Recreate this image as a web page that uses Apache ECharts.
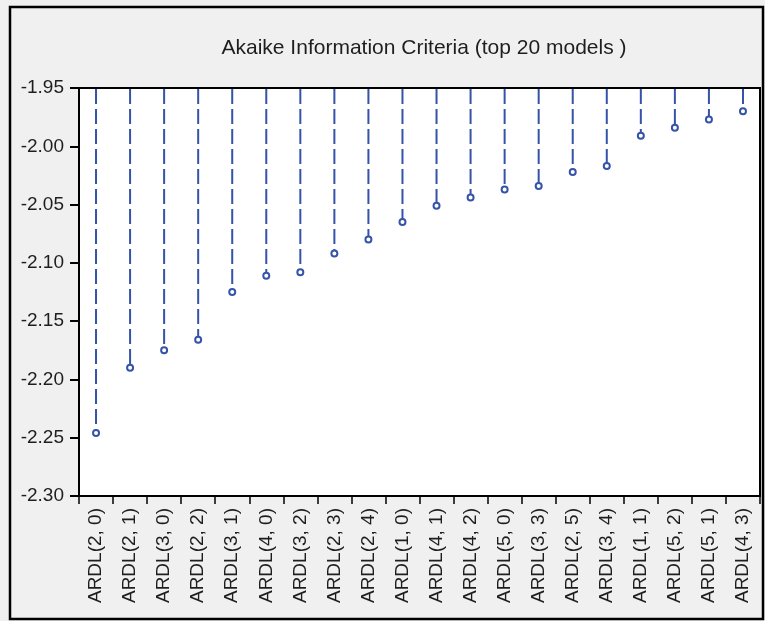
<!DOCTYPE html>
<html>
<head>
<meta charset="utf-8">
<script src="https://cdn.jsdelivr.net/npm/echarts@6/dist/echarts.min.js"></script>
<style>
  html, body { margin: 0; padding: 0; background: #eff0ef; }
  #chart { width: 765px; height: 621px; }
</style>
</head>
<body>
<div id="chart"></div>
<script>
// ARDL model orders ranked by Akaike information criterion
const models = [
  'ARDL(2, 0)', 'ARDL(2, 1)', 'ARDL(3, 0)', 'ARDL(2, 2)', 'ARDL(3, 1)',
  'ARDL(4, 0)', 'ARDL(3, 2)', 'ARDL(2, 3)', 'ARDL(2, 4)', 'ARDL(1, 0)',
  'ARDL(4, 1)', 'ARDL(4, 2)', 'ARDL(5, 0)', 'ARDL(3, 3)', 'ARDL(2, 5)',
  'ARDL(3, 4)', 'ARDL(1, 1)', 'ARDL(5, 2)', 'ARDL(5, 1)', 'ARDL(4, 3)'
];
const aicValues = [
  -2.246, -2.190, -2.175, -2.166, -2.125,
  -2.111, -2.108, -2.092, -2.080, -2.065,
  -2.051, -2.044, -2.037, -2.034, -2.022,
  -2.017, -1.991, -1.984, -1.977, -1.970
];
const yMin = -2.30;
const yMax = -1.95;
const yStep = 0.05;
const titleText = 'Akaike Information Criteria (top 20 models )';

const stemColor = '#3553a8';
const fontFamily = '"Liberation Sans", Arial, sans-serif';
const textColor = '#1e1e1e';

const chart = echarts.init(document.getElementById('chart'), null, { renderer: 'canvas' });

chart.setOption({
  backgroundColor: '#eff0ef',
  animation: false,
  title: {
    text: titleText,
    left: 419,
    top: 33,
    textAlign: 'center',
    textStyle: { fontFamily, fontSize: 21, fontWeight: 'normal', color: textColor }
  },
  graphic: [{
    type: 'rect',
    silent: true,
    z: 100,
    shape: { x: 10, y: 7, width: 753, height: 612 },
    style: { fill: 'none', stroke: '#000', lineWidth: 2.5 }
  }],
  grid: {
    left: 79, right: 5, top: 88, bottom: 125,
    show: true,
    backgroundColor: '#ffffff',
    borderColor: '#000',
    borderWidth: 2
  },
  xAxis: {
    type: 'category',
    data: models,
    boundaryGap: true,
    axisLine: { show: true, lineStyle: { color: '#000', width: 2 } },
    axisTick: { show: true, length: 8, interval: 0, lineStyle: { color: '#000', width: 1.5 } },
    axisLabel: {
      interval: 0, rotate: 90, margin: 12,
      fontFamily, fontSize: 19, color: textColor
    },
    splitLine: { show: false }
  },
  yAxis: {
    type: 'value',
    min: yMin, max: yMax, interval: yStep,
    axisLine: { show: true, lineStyle: { color: '#000', width: 2 } },
    axisTick: { show: true, length: 9, lineStyle: { color: '#000', width: 2 } },
    axisLabel: {
      margin: 15, fontFamily, fontSize: 19, color: textColor,
      formatter: v => v.toFixed(2)
    },
    splitLine: { show: false }
  },
  series: [{
    type: 'custom',
    clip: false,
    data: aicValues.map((v, i) => [i, v]),
    renderItem: (params, api) => {
      const top = api.coord([api.value(0), yMax]);
      const pt = api.coord([api.value(0), api.value(1)]);
      return {
        type: 'group',
        children: [
          {
            type: 'line',
            shape: { x1: top[0], y1: top[1] + 1, x2: pt[0], y2: pt[1] - 3 },
            style: { stroke: stemColor, lineWidth: 2, lineDash: [15, 5] }
          },
          {
            type: 'circle',
            shape: { cx: pt[0], cy: pt[1], r: 3 },
            style: { fill: '#ffffff', stroke: stemColor, lineWidth: 2 }
          }
        ]
      };
    }
  }]
});
</script>
</body>
</html>
